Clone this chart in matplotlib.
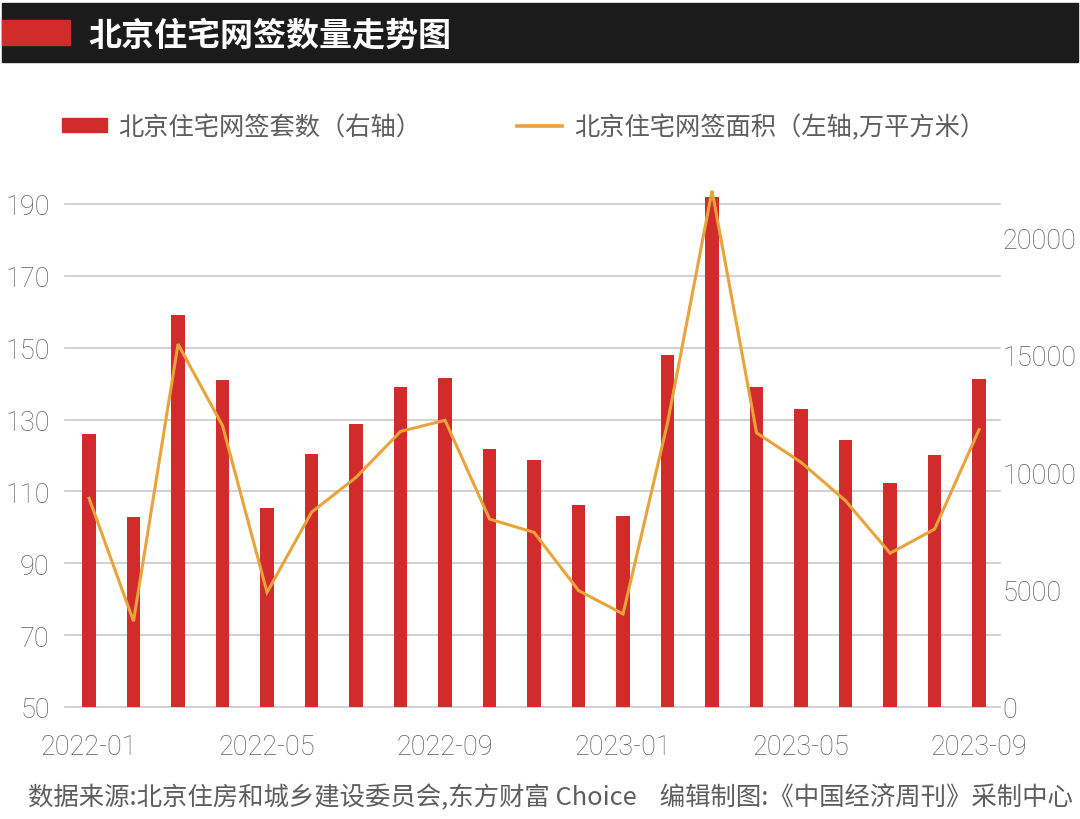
import numpy as np
import matplotlib
matplotlib.use('Agg')
import matplotlib.pyplot as plt
from matplotlib import transforms
from matplotlib.patches import Rectangle, Patch
from matplotlib.lines import Line2D

# monthly data, 2022-01 .. 2023-09
months = ['2022-01', '2022-02', '2022-03', '2022-04', '2022-05', '2022-06', '2022-07',
          '2022-08', '2022-09', '2022-10', '2022-11', '2022-12', '2023-01', '2023-02',
          '2023-03', '2023-04', '2023-05', '2023-06', '2023-07', '2023-08', '2023-09']
sets = [11640, 8110, 16690, 13940, 8460, 10790, 12070, 13620, 14020, 10970, 10510,
        8600, 8140, 14990, 21700, 13620, 12710, 11370, 9520, 10710, 13950]
area = [108.1, 73.9, 151.0, 128.3, 81.9, 104.2, 113.9, 126.7, 129.8, 102.3, 98.6,
        82.4, 75.9, 129.1, 193.7, 126.3, 118.1, 107.4, 92.8, 99.5, 127.2]
shown_months = ['2022-01', '2022-05', '2022-09', '2023-01', '2023-05', '2023-09']
left_ticks = [50, 70, 90, 110, 130, 150, 170, 190]
right_ticks = [0, 5000, 10000, 15000, 20000]

title = '北京住宅网签数量走势图'
legend_labels = ['北京住宅网签套数（右轴）', '北京住宅网签面积（左轴,万平方米）']
source = '数据来源:北京住房和城乡建设委员会,东方财富 Choice    编辑制图:《中国经济周刊》采制中心'

RED = '#d22b2b'
GOLD = '#e9a33b'
GRID = '#c9c9c9'
TXT = '#5e5e5e'
CJK = ['Noto Sans CJK SC', 'DejaVu Sans']
NUM = ['Roboto', 'DejaVu Sans']

W, H = 1080, 820
fig = plt.figure(figsize=(W / 100, H / 100), dpi=100)

# axes box in pixels: x 65..1000, y 187..708
ax_bar = fig.add_axes([65 / W, (H - 708) / H, 935 / W, 521 / H])
ax_line = ax_bar.twinx()
ax_bar.yaxis.tick_right()
ax_line.yaxis.tick_left()
ax_line.set_zorder(ax_bar.get_zorder() + 1)
ax_line.patch.set_visible(False)

x = np.arange(len(months))
ax_bar.bar(x, sets, width=0.3, color=RED, zorder=2)
ax_line.plot(x, area, color=GOLD, lw=2.2, solid_joinstyle='miter', zorder=3)

ax_line.set_ylim(50, 195)
ax_bar.set_xlim(-0.54, 20.47)

# horizontal grid follows the left axis but sits behind the bars
trans = transforms.blended_transform_factory(ax_bar.transAxes, ax_line.transData)
for v in left_ticks:
    ax_bar.plot([0, 1], [v, v], transform=trans, color=GRID, lw=1.2, zorder=1, clip_on=False)
ax_bar.set_ylim(0, 22185)

for ax in (ax_bar, ax_line):
    for s in ax.spines.values():
        s.set_visible(False)

ax_line.set_yticks(left_ticks)
ax_bar.set_yticks(right_ticks)
ax_bar.set_xticks([months.index(m) for m in shown_months])
ax_bar.set_xticklabels(shown_months)

ax_line.tick_params(axis='y', length=0, pad=11, labelsize=19.5, labelcolor=TXT)
ax_bar.tick_params(axis='y', length=0, pad=2, labelsize=19.5, labelcolor=TXT)
ax_bar.tick_params(axis='x', length=0, pad=19, labelsize=19.5, labelcolor=TXT)
for lbl in ax_line.get_yticklabels() + ax_bar.get_yticklabels() + ax_bar.get_xticklabels():
    lbl.set_fontfamily(NUM)
    lbl.set_fontweight('light')

# title bar
fig.patches.append(Rectangle((2 / W, 1 - 63 / H), 1076 / W, 59 / H,
                             transform=fig.transFigure, color='#1b1b1b', zorder=0))
fig.patches.append(Rectangle((2 / W, 1 - 46 / H), 68 / W, 25 / H,
                             transform=fig.transFigure, color=RED, zorder=1))
fig.text(88 / W, 1 - 36 / H, title, color='white', fontsize=23.8, fontweight='bold',
         family=CJK, va='center', ha='left')

handles = [Patch(color=RED), Line2D([], [], color=GOLD, lw=2.6)]
fig.legend(handles, legend_labels, loc='center left', bbox_to_anchor=(62 / W, 1 - 128 / H),
           ncol=2, frameon=False, prop={'family': CJK, 'size': 18.2}, labelcolor=TXT,
           handlelength=1.78, handleheight=0.5, handletextpad=0.45, columnspacing=3.8,
           borderpad=0, borderaxespad=0)

fig.text(28 / W, 1 - 798 / H, source, fontsize=18.3, color=TXT, family=CJK,
         va='center', ha='left')

fig.savefig('out.png', dpi=100)
